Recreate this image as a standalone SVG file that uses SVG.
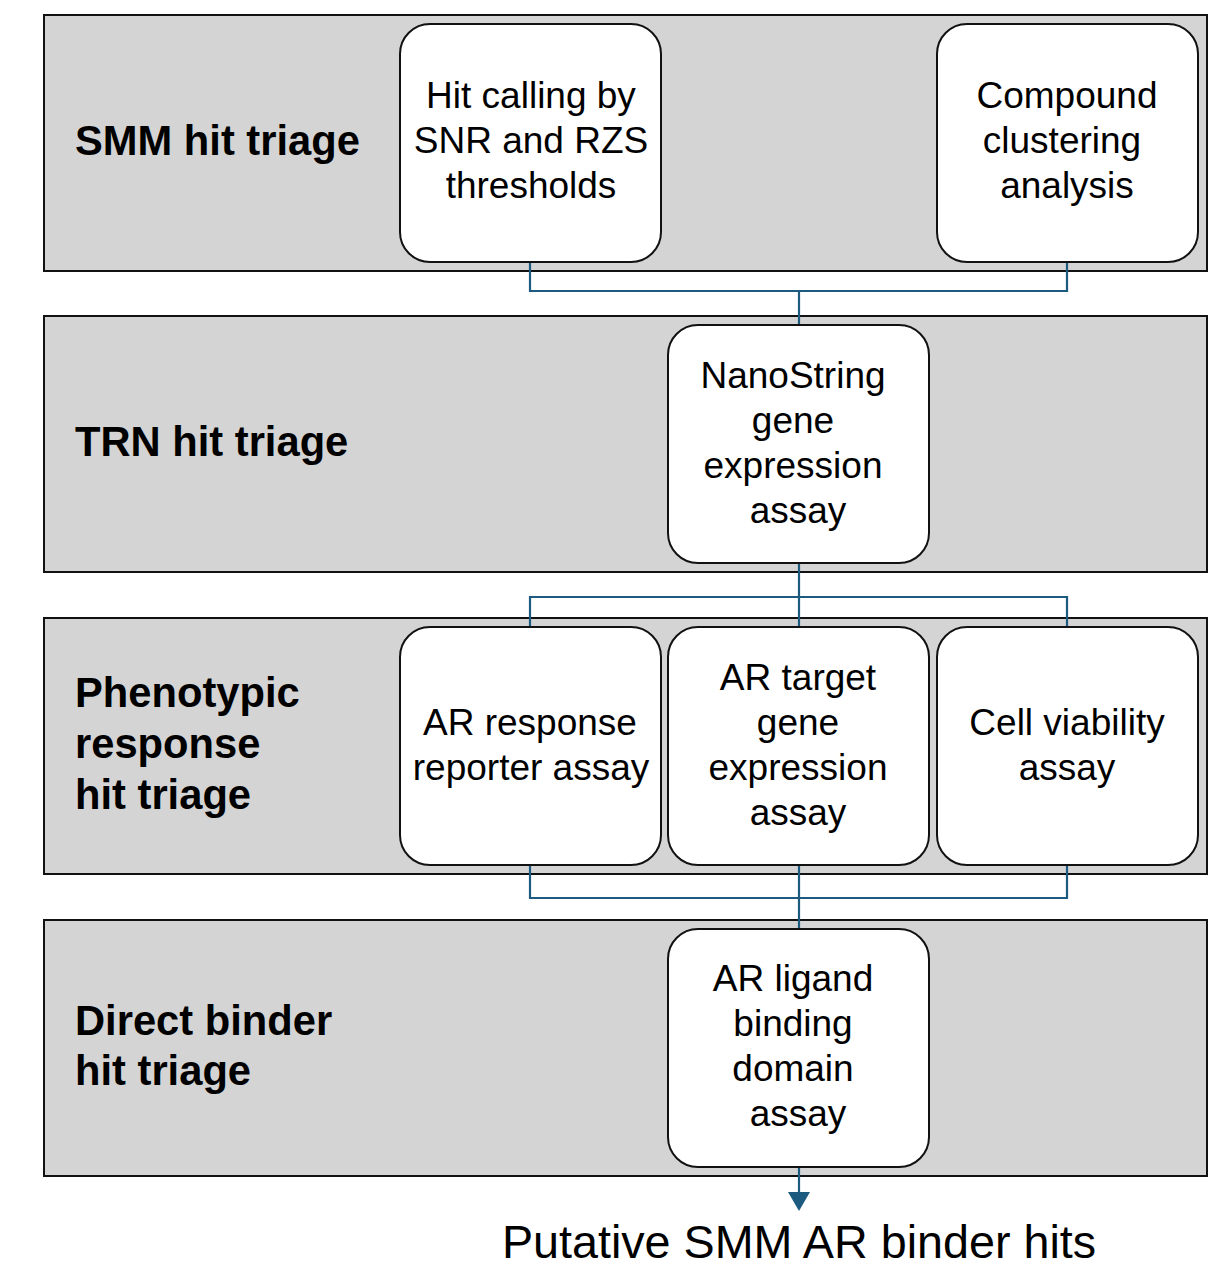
<svg xmlns="http://www.w3.org/2000/svg" width="1209" height="1268" viewBox="0 0 1209 1268">
<style>
.panel{fill:#d4d4d4;stroke:#111;stroke-width:2}
.box{fill:#fff;stroke:#111;stroke-width:2}
.lbl{font-family:"Liberation Sans",Arial,sans-serif;font-weight:bold;font-size:41.7px;fill:#000}
.txt{font-family:"Liberation Sans",Arial,sans-serif;font-size:37px;fill:#000;text-anchor:middle}
.out{font-family:"Liberation Sans",Arial,sans-serif;font-size:46.7px;fill:#000;text-anchor:middle}
.conn{fill:none;stroke:#1d5a80;stroke-width:2.2}
</style>
<rect width="1209" height="1268" fill="#fff"/>
<g id="panel-smm"><rect class="panel" x="44" y="15" width="1163" height="256"/><text class="lbl" x="75" y="155">SMM hit triage</text></g>
<g id="panel-trn"><rect class="panel" x="44" y="316" width="1163" height="256"/><text class="lbl" x="75" y="456">TRN hit triage</text></g>
<g id="panel-pheno"><rect class="panel" x="44" y="618" width="1163" height="256"/><text class="lbl" x="75" y="707">Phenotypic</text><text class="lbl" x="75" y="758">response</text><text class="lbl" x="75" y="809">hit triage</text></g>
<g id="panel-direct"><rect class="panel" x="44" y="920" width="1163" height="256"/><text class="lbl" x="75" y="1035">Direct binder</text><text class="lbl" x="75" y="1085">hit triage</text></g>
<g id="connectors">
<path class="conn" d="M530 262V291H1067V262M799 291V325"/>
<path class="conn" d="M799 563V627M530 627V597H1067V627"/>
<path class="conn" d="M530 865V898H1067V865M799 865V929"/>
<path class="conn" d="M799 1167V1194"/>
<polygon points="788,1192 810,1192 799,1211" fill="#1d5a80"/>
</g>
<g id="node-hit-calling"><rect class="box" x="400" y="24" width="261" height="238" rx="30"/><text class="txt" x="531" y="108">Hit calling by</text><text class="txt" x="531" y="153">SNR and RZS</text><text class="txt" x="531" y="198">thresholds</text></g>
<g id="node-clustering"><rect class="box" x="937" y="24" width="261" height="238" rx="30"/><text class="txt" x="1067" y="108">Compound</text><text class="txt" x="1062" y="153">clustering</text><text class="txt" x="1067" y="198">analysis</text></g>
<g id="node-nanostring"><rect class="box" x="668" y="325" width="261" height="238" rx="30"/><text class="txt" x="793" y="388">NanoString</text><text class="txt" x="793" y="433">gene</text><text class="txt" x="793" y="478">expression</text><text class="txt" x="798" y="523">assay</text></g>
<g id="node-ar-response"><rect class="box" x="400" y="627" width="261" height="238" rx="30"/><text class="txt" x="530" y="735">AR response</text><text class="txt" x="531" y="780">reporter assay</text></g>
<g id="node-ar-target"><rect class="box" x="668" y="627" width="261" height="238" rx="30"/><text class="txt" x="798" y="690">AR target</text><text class="txt" x="798" y="735">gene</text><text class="txt" x="798" y="780">expression</text><text class="txt" x="798" y="825">assay</text></g>
<g id="node-viability"><rect class="box" x="937" y="627" width="261" height="238" rx="30"/><text class="txt" x="1067" y="735">Cell viability</text><text class="txt" x="1067" y="780">assay</text></g>
<g id="node-lbd"><rect class="box" x="668" y="929" width="261" height="238" rx="30"/><text class="txt" x="793" y="991">AR ligand</text><text class="txt" x="793" y="1036">binding</text><text class="txt" x="793" y="1081">domain</text><text class="txt" x="798" y="1126">assay</text></g>
<g id="output"><text class="out" x="799" y="1258">Putative SMM AR binder hits</text></g>
</svg>
